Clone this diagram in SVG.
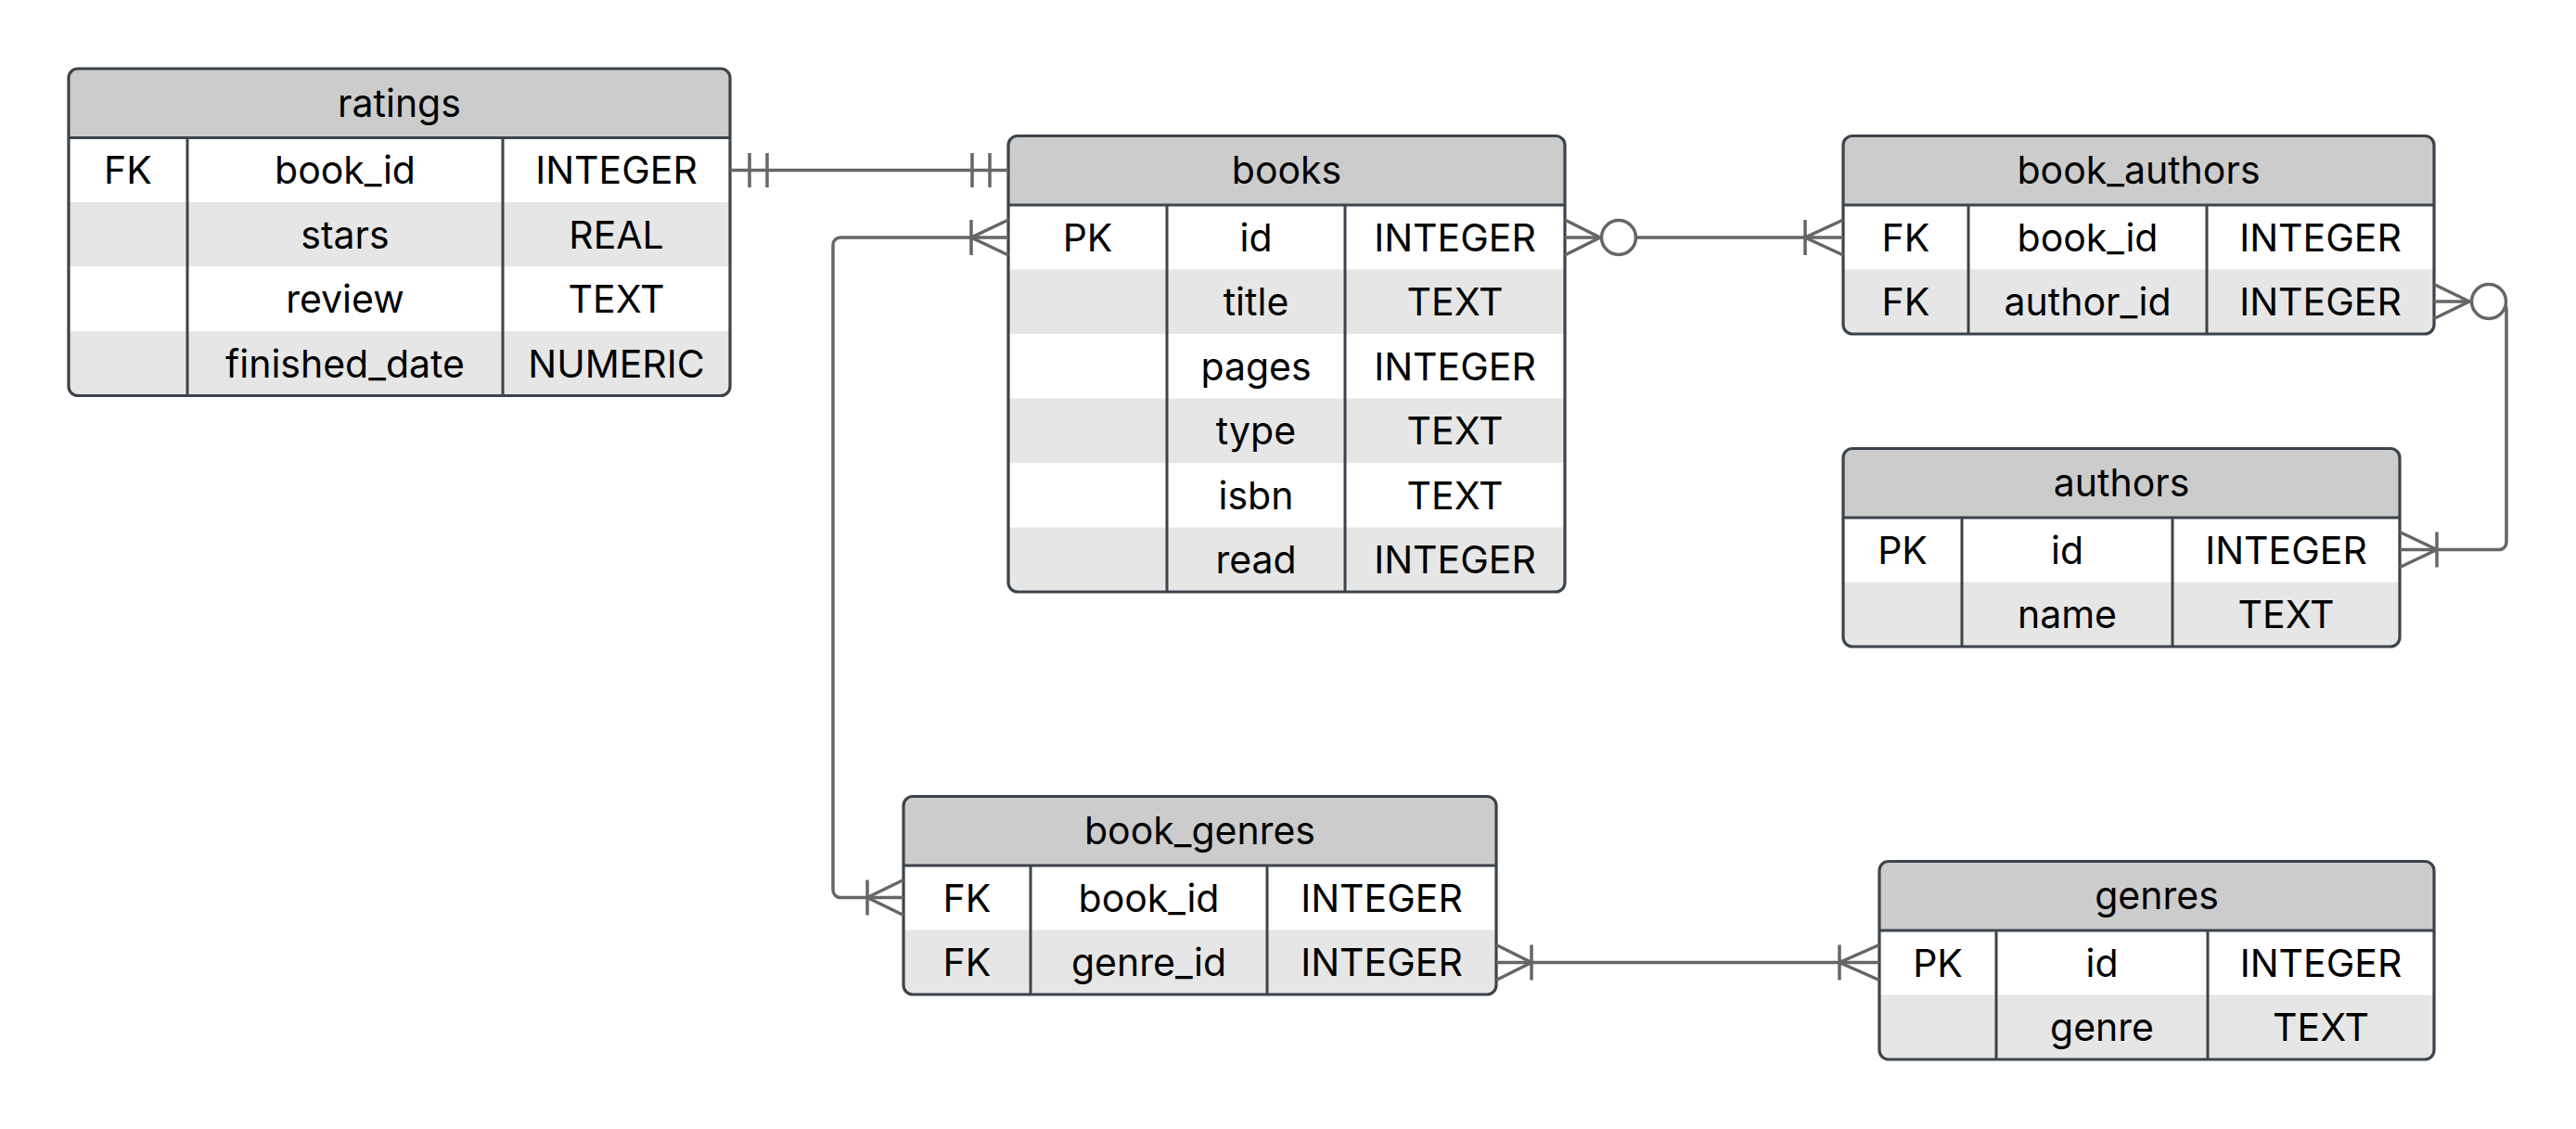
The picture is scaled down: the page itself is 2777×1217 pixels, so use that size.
<svg xmlns="http://www.w3.org/2000/svg" width="2777" height="1217" viewBox="0 0 2777 1217">
  <style>
    .hdr { fill: #cccccc; }
    .odd { fill: #ffffff; }
    .even { fill: #e6e6e6; }
    .frame { fill: none; stroke: #3d434b; stroke-width: 3.2; }
    .grid { stroke: #3d434b; stroke-width: 3; fill: none; }
    text { font-family: Inter, "Liberation Sans", sans-serif; font-size: 41px; fill: #000000; text-anchor: middle; }
    .rel { fill: none; stroke: #666666; stroke-width: 3.5; stroke-linejoin: miter; }
    .ring { fill: #ffffff; stroke: #666666; stroke-width: 3.5; }
  </style>
  <defs>
    <clipPath id="clip-ratings"><rect x="74" y="74" width="713" height="352.5" rx="10"/></clipPath>
    <clipPath id="clip-books"><rect x="1087" y="146.5" width="600" height="491.5" rx="10"/></clipPath>
    <clipPath id="clip-book_authors"><rect x="1987" y="146.5" width="637" height="213.5" rx="10"/></clipPath>
    <clipPath id="clip-authors"><rect x="1987" y="483.5" width="600" height="213.5" rx="10"/></clipPath>
    <clipPath id="clip-book_genres"><rect x="974" y="858.5" width="639" height="213.5" rx="10"/></clipPath>
    <clipPath id="clip-genres"><rect x="2026" y="928.5" width="598" height="213.5" rx="10"/></clipPath>
  </defs>

  <rect width="2777" height="1217" fill="#ffffff"/>

  <!-- ratings -->
  <g id="ratings">
    <g clip-path="url(#clip-ratings)">
      <rect class="hdr" x="74" y="74" width="713" height="74.5"/>
      <rect class="odd" x="74" y="148.5" width="713" height="69.5"/>
      <rect class="even" x="74" y="218" width="713" height="69.5"/>
      <rect class="odd" x="74" y="287.5" width="713" height="69.5"/>
      <rect class="even" x="74" y="357" width="713" height="69.5"/>
    </g>
    <path class="grid" d="M74,148.5 H787 M202,148.5 V426.5 M542,148.5 V426.5"/>
    <rect class="frame" x="74" y="74" width="713" height="352.5" rx="10"/>
    <text x="430.5" y="125.5">ratings</text>
    <text x="138" y="198">FK</text>
    <text x="372" y="198">book_id</text>
    <text x="664.5" y="198">INTEGER</text>
    <text x="372" y="267.5">stars</text>
    <text x="664.5" y="267.5">REAL</text>
    <text x="372" y="337">review</text>
    <text x="664.5" y="337">TEXT</text>
    <text x="372" y="406.5">finished_date</text>
    <text x="664.5" y="406.5">NUMERIC</text>
  </g>

  <!-- books -->
  <g id="books">
    <g clip-path="url(#clip-books)">
      <rect class="hdr" x="1087" y="146.5" width="600" height="74.5"/>
      <rect class="odd" x="1087" y="221" width="600" height="69.5"/>
      <rect class="even" x="1087" y="290.5" width="600" height="69.5"/>
      <rect class="odd" x="1087" y="360" width="600" height="69.5"/>
      <rect class="even" x="1087" y="429.5" width="600" height="69.5"/>
      <rect class="odd" x="1087" y="499" width="600" height="69.5"/>
      <rect class="even" x="1087" y="568.5" width="600" height="69.5"/>
    </g>
    <path class="grid" d="M1087,221 H1687 M1258,221 V638 M1450,221 V638"/>
    <rect class="frame" x="1087" y="146.5" width="600" height="491.5" rx="10"/>
    <text x="1387" y="198">books</text>
    <text x="1172.5" y="270.5">PK</text>
    <text x="1354" y="270.5">id</text>
    <text x="1568.5" y="270.5">INTEGER</text>
    <text x="1354" y="340">title</text>
    <text x="1568.5" y="340">TEXT</text>
    <text x="1354" y="409.5">pages</text>
    <text x="1568.5" y="409.5">INTEGER</text>
    <text x="1354" y="479">type</text>
    <text x="1568.5" y="479">TEXT</text>
    <text x="1354" y="548.5">isbn</text>
    <text x="1568.5" y="548.5">TEXT</text>
    <text x="1354" y="618">read</text>
    <text x="1568.5" y="618">INTEGER</text>
  </g>

  <!-- book_authors -->
  <g id="book_authors">
    <g clip-path="url(#clip-book_authors)">
      <rect class="hdr" x="1987" y="146.5" width="637" height="74.5"/>
      <rect class="odd" x="1987" y="221" width="637" height="69.5"/>
      <rect class="even" x="1987" y="290.5" width="637" height="69.5"/>
    </g>
    <path class="grid" d="M1987,221 H2624 M2122,221 V360 M2379,221 V360"/>
    <rect class="frame" x="1987" y="146.5" width="637" height="213.5" rx="10"/>
    <text x="2305.5" y="198">book_authors</text>
    <text x="2054.5" y="270.5">FK</text>
    <text x="2250.5" y="270.5">book_id</text>
    <text x="2501.5" y="270.5">INTEGER</text>
    <text x="2054.5" y="340">FK</text>
    <text x="2250.5" y="340">author_id</text>
    <text x="2501.5" y="340">INTEGER</text>
  </g>

  <!-- authors -->
  <g id="authors">
    <g clip-path="url(#clip-authors)">
      <rect class="hdr" x="1987" y="483.5" width="600" height="74.5"/>
      <rect class="odd" x="1987" y="558" width="600" height="69.5"/>
      <rect class="even" x="1987" y="627.5" width="600" height="69.5"/>
    </g>
    <path class="grid" d="M1987,558 H2587 M2115,558 V697 M2342,558 V697"/>
    <rect class="frame" x="1987" y="483.5" width="600" height="213.5" rx="10"/>
    <text x="2287" y="535">authors</text>
    <text x="2051" y="607.5">PK</text>
    <text x="2228.5" y="607.5">id</text>
    <text x="2464.5" y="607.5">INTEGER</text>
    <text x="2228.5" y="677">name</text>
    <text x="2464.5" y="677">TEXT</text>
  </g>

  <!-- book_genres -->
  <g id="book_genres">
    <g clip-path="url(#clip-book_genres)">
      <rect class="hdr" x="974" y="858.5" width="639" height="74.5"/>
      <rect class="odd" x="974" y="933" width="639" height="69.5"/>
      <rect class="even" x="974" y="1002.5" width="639" height="69.5"/>
    </g>
    <path class="grid" d="M974,933 H1613 M1111,933 V1072 M1366,933 V1072"/>
    <rect class="frame" x="974" y="858.5" width="639" height="213.5" rx="10"/>
    <text x="1293.5" y="910">book_genres</text>
    <text x="1042.5" y="982.5">FK</text>
    <text x="1238.5" y="982.5">book_id</text>
    <text x="1489.5" y="982.5">INTEGER</text>
    <text x="1042.5" y="1052">FK</text>
    <text x="1238.5" y="1052">genre_id</text>
    <text x="1489.5" y="1052">INTEGER</text>
  </g>

  <!-- genres -->
  <g id="genres">
    <g clip-path="url(#clip-genres)">
      <rect class="hdr" x="2026" y="928.5" width="598" height="74.5"/>
      <rect class="odd" x="2026" y="1003" width="598" height="69.5"/>
      <rect class="even" x="2026" y="1072.5" width="598" height="69.5"/>
    </g>
    <path class="grid" d="M2026,1003 H2624 M2152,1003 V1142 M2380,1003 V1142"/>
    <rect class="frame" x="2026" y="928.5" width="598" height="213.5" rx="10"/>
    <text x="2325" y="980">genres</text>
    <text x="2089" y="1052.5">PK</text>
    <text x="2266" y="1052.5">id</text>
    <text x="2502" y="1052.5">INTEGER</text>
    <text x="2266" y="1122">genre</text>
    <text x="2502" y="1122">TEXT</text>
  </g>

  <!-- relationships -->
  <g id="relationships">
    <!-- ratings.book_id || — || books -->
    <path class="rel" d="M787,183.5 H1087 M808,165 V202 M827,165 V202 M1048,165 V202 M1067,165 V202"/>

    <!-- books.id |< — >| book_genres.book_id -->
    <path class="rel" d="M1087,256 H906 A8,8 0 0 0 898,264 V959.5 A8,8 0 0 0 906,967.5 H974"/>
    <path class="rel" d="M1087,237 L1047,256 L1087,275 M1047,237 V275"/>
    <path class="rel" d="M974,948.5 L935,967.5 L974,986.5 M935,948.5 V986.5"/>

    <!-- books.id >o — |< book_authors.book_id -->
    <path class="rel" d="M1687,256 H1987"/>
    <path class="rel" d="M1687,237 L1725,256 L1687,275"/>
    <circle class="ring" cx="1745" cy="256" r="18.5"/>
    <path class="rel" d="M1987,237 L1946,256 L1987,275 M1946,237 V275"/>

    <!-- book_authors.author_id >o — |< authors.id -->
    <path class="rel" d="M2624,325 H2694 A8,8 0 0 1 2702,333 V584.5 A8,8 0 0 1 2694,592.5 H2587"/>
    <path class="rel" d="M2624,306.5 L2662,325 L2624,343.5"/>
    <circle class="ring" cx="2683" cy="325" r="18.5"/>
    <path class="rel" d="M2587,573.5 L2627,592.5 L2587,611.5 M2627,573.5 V611.5"/>

    <!-- book_genres.genre_id >| — |< genres.id -->
    <path class="rel" d="M1613,1037.5 H2026"/>
    <path class="rel" d="M1613,1018.5 L1651,1037.5 L1613,1056.5 M1651,1018.5 V1056.5"/>
    <path class="rel" d="M2026,1018.5 L1983,1037.5 L2026,1056.5 M1983,1018.5 V1056.5"/>
  </g>
</svg>
